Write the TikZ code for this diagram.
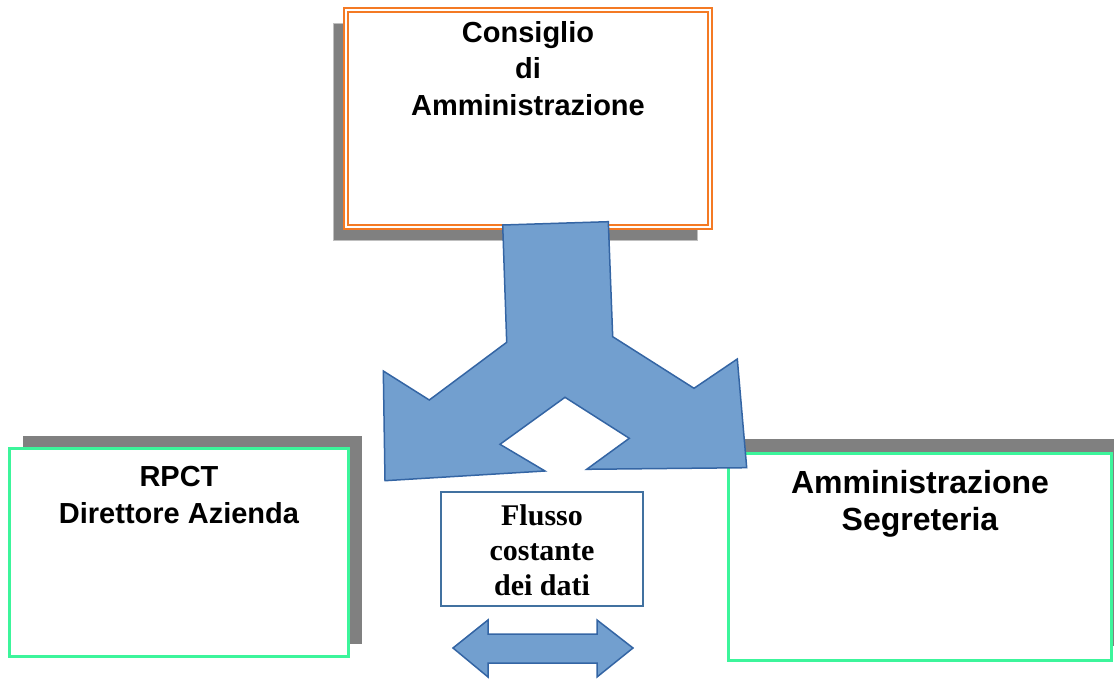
\documentclass[tikz,border=0pt]{standalone}
\usepackage{fontspec}
\setmainfont{Liberation Sans}
\newfontfamily\timesfont{Liberation Serif}
\usetikzlibrary{shadows}
\definecolor{arancio}{RGB}{244,122,36}
\definecolor{verde}{RGB}{60,245,155}
\definecolor{ombra}{RGB}{128,128,128}
\definecolor{azzurro}{RGB}{114,159,207}
\definecolor{bluscuro}{RGB}{52,101,164}
\definecolor{bordoblu}{RGB}{65,113,160}
\begin{document}
\begin{tikzpicture}[x=1pt,y=-1pt,
  box/.style={draw,fill=white,rectangle,inner sep=0},
  titolo/.style={align=center,anchor=north,inner sep=0},
  freccia/.style={fill=azzurro,draw=bluscuro,line width=1.5,line join=miter}]
\useasboundingbox (0,0) rectangle (1114,679);
% consiglio
\node[box,draw=arancio,line width=2,double=white,double distance=1.8,
  minimum width=364,minimum height=217,
  general shadow={fill=ombra,draw=gray!50,thin,shadow xshift=-13,shadow yshift=13}]
  (cda) at (528,118.5) {};
\node[titolo,font=\bfseries\fontsize{29}{36.5}\selectfont] (cdaTxt) at (528,21)
  {Consiglio\\di\\Amministrazione};
% rpct e segreteria
\node[box,draw=verde,line width=3,minimum width=339,minimum height=208,
  general shadow={fill=ombra,shadow xshift=13.5,shadow yshift=-12.5}]
  (rpct) at (179,552.5) {};
\node[titolo,font=\bfseries\fontsize{29}{36.6}\selectfont] (rpctTxt) at (179,466)
  {RPCT\\Direttore Azienda};
\node[box,draw=verde,line width=3,minimum width=383,minimum height=207,
  general shadow={fill=ombra,shadow xshift=14,shadow yshift=-15}]
  (segr) at (920,557) {};
\node[titolo,font=\bfseries\fontsize{32}{36.7}\selectfont] (segrTxt) at (920,470.4)
  {Amministrazione\\Segreteria};
% freccia divisa
\draw[freccia] (502.7,225) -- (608.3,221.7) -- (612.7,336.7) -- (694,388.3)
  -- (737.3,359) -- (746.7,467.7) -- (586.7,469.3) -- (629.3,438.3)
  -- (565,397.3) -- (500,444.3) -- (545,471) -- (385,480.7)
  -- (383.3,371) -- (429.3,400) -- (506.7,342.3) -- cycle;
% flusso
\node[box,draw=bordoblu,line width=1.5,minimum width=202,minimum height=114]
  (flusso) at (542,549) {};
\node[titolo,font=\timesfont\bfseries\fontsize{30}{35}\selectfont] (flussoTxt) at (542,504.7)
  {Flusso\\costante\\dei dati};
\draw[freccia] (453,648) -- (488,620) -- (488,634) -- (597,634) -- (597,620)
  -- (633,648) -- (597,677) -- (597,663) -- (488,663) -- (488,677) -- cycle;
\end{tikzpicture}
\end{document}
